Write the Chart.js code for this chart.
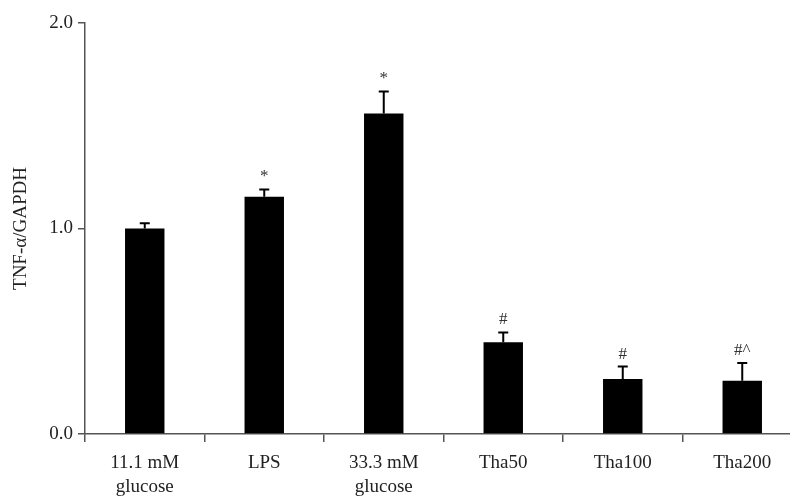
<!DOCTYPE html>
<html>
<head>
<meta charset="utf-8">
<script src="https://cdn.jsdelivr.net/npm/chart.js@4"></script>
<style>
  html, body { margin: 0; padding: 0; background: #fff; overflow: hidden; }
  #wrap { width: 810px; height: 497px; }
</style>
</head>
<body>
<div id="wrap"><canvas id="chart" width="810" height="497"></canvas></div>
<script>
/* ── Data ── */
const groups  = [['11.1 mM', 'glucose'], 'LPS', ['33.3 mM', 'glucose'], 'Tha50', 'Tha100', 'Tha200'];
const ratios  = [1.00, 1.155, 1.56, 0.447, 0.268, 0.259];
const errors  = [0.025, 0.035, 0.107, 0.047, 0.06, 0.086];
const marks   = ['', '*', '*', '#', '#', '#^'];
const yTicks  = [0, 1, 2];

const axisColor = '#555';
const textColor = '#222';
const serif = '"Liberation Serif", "DejaVu Serif", serif';

/* ── Error bars + significance marks ── */
const errorBars = {
    id: 'errorBars',
    afterDatasetsDraw(chart) {
        const { ctx, scales: { x, y } } = chart;
        ctx.save();
        ctx.strokeStyle = '#000';
        ctx.lineWidth = 2;
        ratios.forEach((v, i) => {
            const cx  = x.getPixelForValue(i);
            const top = y.getPixelForValue(v + errors[i]);
            const base = y.getPixelForValue(v);
            ctx.beginPath();
            ctx.moveTo(cx, base);
            ctx.lineTo(cx, top);
            ctx.moveTo(cx - 5, top);
            ctx.lineTo(cx + 5, top);
            ctx.stroke();

            if (marks[i]) {
                ctx.fillStyle = '#333';
                ctx.font = '17px ' + serif;
                ctx.textAlign = 'center';
                ctx.textBaseline = 'bottom';
                ctx.fillText(marks[i], cx, top - 4);
            }
        });
        ctx.restore();
    }
};

new Chart(document.getElementById('chart'), {
    type: 'bar',
    data: {
        labels: groups,
        datasets: [{
            data: ratios,
            backgroundColor: '#000',
            borderWidth: 0,
            barPercentage: 0.33,
            categoryPercentage: 1
        }]
    },
    options: {
        responsive: false,
        animation: false,
        layout: { padding: { top: 23, right: 8, left: 0, bottom: 0 } },
        plugins: { legend: { display: false }, tooltip: { enabled: false } },
        scales: {
            x: {
                grid: {
                    offset: true,
                    drawOnChartArea: false,
                    drawTicks: true,
                    tickLength: 8,
                    tickColor: axisColor,
                    lineWidth: 1.5
                },
                border: { color: axisColor, width: 1.5 },
                ticks: {
                    color: textColor,
                    font: { family: serif, size: 19, lineHeight: 1.25 },
                    maxRotation: 0,
                    padding: 9
                },
                afterFit(scale) { scale.height = 63; }
            },
            y: {
                min: 0,
                max: 2,
                afterBuildTicks(scale) { scale.ticks = yTicks.map(v => ({ value: v })); },
                ticks: {
                    color: textColor,
                    font: { family: serif, size: 19 },
                    padding: 5,
                    callback: v => v.toFixed(1)
                },
                grid: {
                    drawOnChartArea: false,
                    drawTicks: true,
                    tickLength: 7,
                    tickColor: axisColor,
                    lineWidth: 1.5
                },
                border: { color: axisColor, width: 1.5 },
                title: {
                    display: true,
                    text: 'TNF-α/GAPDH',
                    color: textColor,
                    font: { family: serif, size: 19 },
                    padding: { top: 10, bottom: 0 }
                },
                afterFit(scale) { scale.width = 85; }
            }
        }
    },
    plugins: [errorBars]
});
</script>
</body>
</html>
